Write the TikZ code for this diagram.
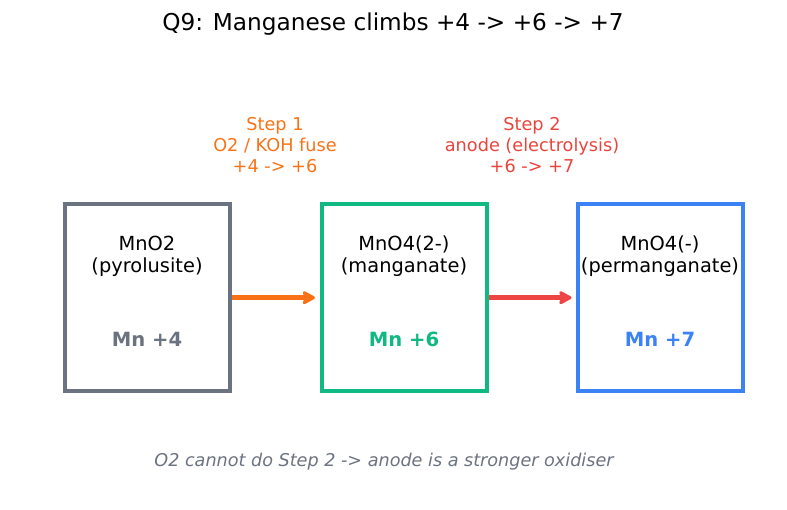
\documentclass[tikz,border=0pt]{standalone}
\usepackage{fontspec}
\setmainfont{DejaVu Sans}
\usepackage{tikz}
\usetikzlibrary{arrows.meta}

\definecolor{mngray}{HTML}{6B7280}
\definecolor{mngreen}{HTML}{10B981}
\definecolor{mnblue}{HTML}{3B82F6}
\definecolor{mnorange}{HTML}{F97316}
\definecolor{mnred}{HTML}{EF4444}
\definecolor{mnstep}{HTML}{E8453C}

\tikzset{
    mnbox/.style={draw=#1, line width=4pt, minimum width=165pt, minimum height=187.5pt, inner sep=0pt},
    mnname/.style={align=center, font=\fontsize{19.4}{22}\selectfont},
    mnox/.style={text=#1, font=\fontsize{19.6}{22}\selectfont\bfseries},
    steptext/.style={text=#1, align=center, font=\fontsize{17.7}{21}\selectfont},
    steparrow/.style={draw=#1, line width=4.5pt, -{Stealth[length=15pt,width=16pt,inset=3pt,round]}, shorten >=4.5pt}
}

\begin{document}
\begin{tikzpicture}[x=1pt, y=-1pt]
                \useasboundingbox (0,0) rectangle (787,510);

                \node[font=\fontsize{23.2}{26}\selectfont] (title) at (393,24) {Q9: Manganese climbs +4 -> +6 -> +7};

                \node[mnbox=mngray] (b1) at (147.4,297.7) {};
                \node[mnbox=mngreen] (b2) at (404,297.7) {};
                \node[mnbox=mnblue] (b3) at (660.5,297.7) {};

                \node[mnname] (n1) at (147,256) {MnO2\\(pyrolusite)};
                \node[mnname] (n2) at (404,256) {MnO4(2-)\\(manganate)};
                \node[mnname] (n3) at (660,256) {MnO4(-)\\(permanganate)};

                \node[mnox=mngray] (o1) at (147,339) {Mn +4};
                \node[mnox=mngreen] (o2) at (404,339) {Mn +6};
                \node[mnox=mnblue] (o3) at (660,339) {Mn +7};

                \draw[steparrow=mnorange] (b1.east) -- (b2.west);
                \draw[steparrow=mnred] (b2.east) -- (b3.west);

                \node[steptext=mnorange] (s1) at (275,145) {Step 1\\O2 / KOH fuse\\+4 -> +6};
                \node[steptext=mnstep] (s2) at (532,145) {Step 2\\anode (electrolysis)\\+6 -> +7};

                \node[text=mngray, font=\fontsize{17.6}{20}\selectfont\itshape] (note) at (384,462) {O2 cannot do Step 2 -> anode is a stronger oxidiser};
            \end{tikzpicture}
\end{document}
